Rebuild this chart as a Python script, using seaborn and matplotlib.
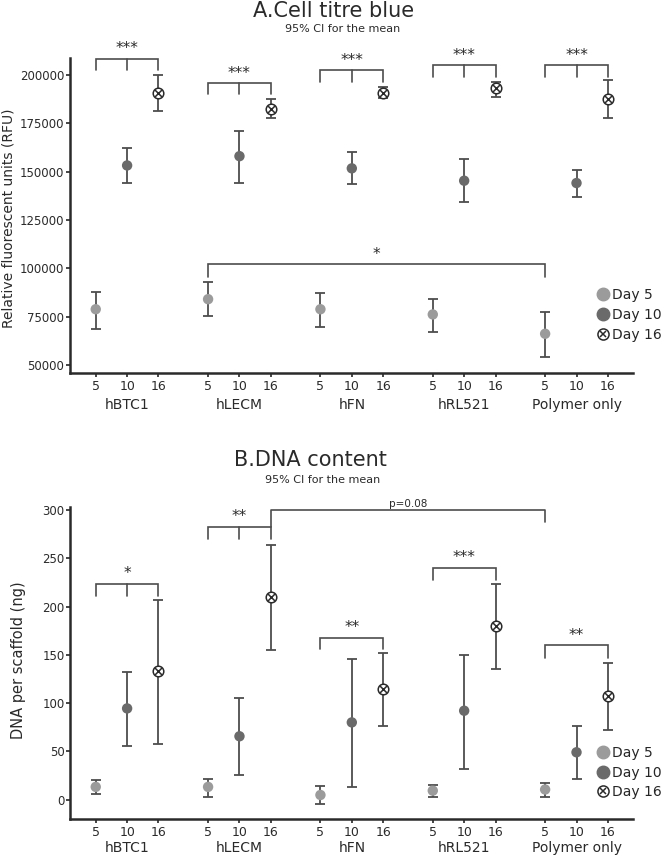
import numpy as np
import pandas as pd
import matplotlib
matplotlib.use("Agg")
import matplotlib.pyplot as plt
from matplotlib.lines import Line2D
import seaborn as sns

# categories
groups = ["hBTC1", "hLECM", "hFN", "hRL521", "Polymer only"]
days = ["5", "10", "16"]
day_names = ["Day 5", "Day 10", "Day 16"]

# panel A - cell titre blue (RFU), rows = groups, cols = days
ctb_mean = [[78800, 153200, 190800],
            [84000, 158000, 182600],
            [78800, 151700, 190800],
            [76100, 145300, 193100],
            [66100, 144100, 187600]]
ctb_low = [[68700, 144300, 181400],
           [75400, 144300, 177900],
           [69700, 143600, 187900],
           [67100, 134500, 188800],
           [54200, 137000, 177900]]
ctb_high = [[87600, 162100, 200000],
            [93000, 171200, 187400],
            [87000, 160000, 193900],
            [84100, 156400, 196500],
            [77500, 150800, 197200]]

# panel B - DNA content (ng)
dna_mean = [[13.1, 94.5, 132.8],
            [13.1, 65.6, 209.8],
            [4.7, 80.0, 114.9],
            [9.2, 92.1, 180.1],
            [10.4, 49.0, 107.7]]
dna_low = [[5.9, 55.9, 57.7],
           [3.1, 25.2, 154.6],
           [-4.3, 12.7, 76.5],
           [3.0, 32.0, 135.3],
           [2.1, 21.4, 71.7]]
dna_high = [[20.4, 131.8, 207.4],
            [21.4, 105.3, 264.0],
            [14.0, 146.0, 151.8],
            [15.0, 150.1, 223.3],
            [17.6, 76.6, 141.5]]

# significance brackets: (group_from, day_from, group_to, day_to, top, legs, mid_tick, label)
ctb_brackets = [(0, 0, 0, 2, 208400, 202400, True, "***"),
                (1, 0, 1, 2, 195900, 190000, True, "***"),
                (2, 0, 2, 2, 202600, 196400, True, "***"),
                (3, 0, 3, 2, 205000, 198800, True, "***"),
                (4, 0, 4, 2, 205000, 198800, True, "***"),
                (1, 0, 4, 0, 102000, 95600, False, "*")]
dna_brackets = [(0, 0, 0, 2, 223.9, 211.5, True, "*"),
                (1, 0, 1, 2, 283.0, 270.6, True, "**"),
                (2, 0, 2, 2, 167.4, 156.0, False, "**"),
                (3, 0, 3, 2, 240.5, 227.7, False, "***"),
                (4, 0, 4, 2, 159.8, 147.0, False, "**")]

GROUP_STEP = 3.58
C5, C10 = "#9b9b9b", "#6a6a6a"
ERR = "#4d4d4d"
INK = "#2a2a2a"


def xpos(g, d):
    return g * GROUP_STEP + d


def to_frame(mean, low, high):
    rows = []
    for g, grp in enumerate(groups):
        for d, day in enumerate(day_names):
            rows.append({"group": grp, "day": day, "x": xpos(g, d),
                         "mean": mean[g][d], "low": low[g][d], "high": high[g][d]})
    return pd.DataFrame(rows)


def draw_panel(ax, df, brackets, ylim, yticks, bracket_dy, group_y, pval=None):
    # error bars first so markers sit on top
    ax.errorbar(df["x"], df["mean"],
                yerr=[df["mean"] - df["low"], df["high"] - df["mean"]],
                fmt="none", ecolor=ERR, elinewidth=1.3, capsize=3.3, capthick=1.3, zorder=2)
    early = df[df["day"] != "Day 16"]
    sns.scatterplot(data=early, x="x", y="mean", hue="day",
                    palette={"Day 5": C5, "Day 10": C10}, s=56, linewidth=0,
                    legend=False, ax=ax, zorder=3)
    late = df[df["day"] == "Day 16"]
    ax.scatter(late["x"], late["mean"], s=58, facecolor="white", edgecolor=INK,
               linewidth=1.1, zorder=3)
    ax.scatter(late["x"], late["mean"], s=24, marker="x", color=INK, linewidth=1.1, zorder=4)

    for g0, d0, g1, d1, top, legs, mid, lab in brackets:
        x0, x1 = xpos(g0, d0), xpos(g1, d1)
        ax.plot([x0, x0, x1, x1], [legs, top, top, legs], color=ERR, lw=1.2,
                clip_on=False, solid_joinstyle="miter")
        if mid:
            xm = (x0 + x1) / 2
            ax.plot([xm, xm], [top, legs], color=ERR, lw=1.2, clip_on=False)
        ax.text((x0 + x1) / 2, top + bracket_dy, lab, ha="center", va="bottom",
                fontsize=11, color=INK, clip_on=False)

    if pval is not None:
        g0, d0, g1, d1, top, leg0, leg1, lab = pval
        x0, x1 = xpos(g0, d0), xpos(g1, d1)
        ax.plot([x0, x0, x1, x1], [leg0, top, top, leg1], color=ERR, lw=1.2, clip_on=False)
        ax.text((x0 + x1) / 2, top + bracket_dy * 0.6, lab, ha="center", va="bottom",
                fontsize=7.5, color=INK, clip_on=False)

    ax.set_xlim(-0.82, xpos(4, 2) + 0.8)
    ax.set_ylim(*ylim)
    ax.set_yticks(yticks)
    ax.set_xticks([xpos(g, d) for g in range(len(groups)) for d in range(3)])
    ax.set_xticklabels(days * len(groups), fontsize=9, color=INK)
    ax.tick_params(axis="y", labelsize=8.5, labelcolor=INK, length=3, width=1.2, pad=1)
    ax.tick_params(axis="x", length=3, width=1.2, pad=2)
    for g, grp in enumerate(groups):
        ax.text(xpos(g, 1), group_y, grp, transform=ax.get_xaxis_transform(),
                ha="center", va="center", fontsize=10, color=INK)
    ax.set_xlabel("")
    sns.despine(ax=ax)
    for sp in ("left", "bottom"):
        ax.spines[sp].set_linewidth(1.8)
        ax.spines[sp].set_color(INK)

    h5 = Line2D([], [], marker="o", ls="none", color=C5, markersize=9)
    h10 = Line2D([], [], marker="o", ls="none", color=C10, markersize=9)
    h16a = Line2D([], [], marker="o", ls="none", markerfacecolor="white",
                  markeredgecolor=INK, markersize=8, markeredgewidth=1.1)
    h16b = Line2D([], [], marker="x", ls="none", color=INK, markersize=4.8, markeredgewidth=1.1)
    return [h5, h10, (h16a, h16b)]


sns.set_style("ticks")
plt.rcParams["font.family"] = ["DejaVu Sans"]

fig = plt.figure(figsize=(6.66, 8.57), dpi=100)
axA = fig.add_axes([70 / 666, 1 - 373 / 857, 563 / 666, 315 / 857])
axB = fig.add_axes([70 / 666, 1 - 819 / 857, 563 / 666, 312 / 857])

legend_kw = dict(loc="upper left", frameon=False, fontsize=10, handlelength=0.9,
                 handletextpad=0.25, labelspacing=0.42, borderpad=0, borderaxespad=0)

dfA = to_frame(ctb_mean, ctb_low, ctb_high)
handles = draw_panel(axA, dfA, ctb_brackets, (45800, 208800),
                     np.arange(50000, 200001, 25000), 1200, -0.102)
axA.set_ylabel("Relative fluorescent units (RFU)", fontsize=10, color=INK)
axA.yaxis.set_label_coords(-0.097, 0.49)
axA.legend(handles, day_names, bbox_to_anchor=(0.935, 0.27), **legend_kw)

dfB = to_frame(dna_mean, dna_low, dna_high)
handles = draw_panel(axB, dfB, dna_brackets, (-20.2, 303.4), np.arange(0, 301, 50), 3,
                     -0.093, pval=(1, 2, 4, 0, 300.0, 283.0, 287.6, "p=0.08"))
axB.set_ylabel("DNA per scaffold (ng)", fontsize=10.5, color=INK)
axB.yaxis.set_label_coords(-0.079, 0.51)
axB.legend(handles, day_names, bbox_to_anchor=(0.935, 0.235), **legend_kw)

fig.text(334 / 666, 1 - 11 / 857, "A.Cell titre blue", ha="center", va="center",
         fontsize=15, color=INK)
fig.text(343 / 666, 1 - 29 / 857, "95% CI for the mean", ha="center", va="center",
         fontsize=8, color=INK)
fig.text(310 / 666, 1 - 460 / 857, "B.DNA content", ha="center", va="center",
         fontsize=15, color=INK)
fig.text(323 / 666, 1 - 480 / 857, "95% CI for the mean", ha="center", va="center",
         fontsize=8, color=INK)

fig.savefig("out.png", dpi=100)
